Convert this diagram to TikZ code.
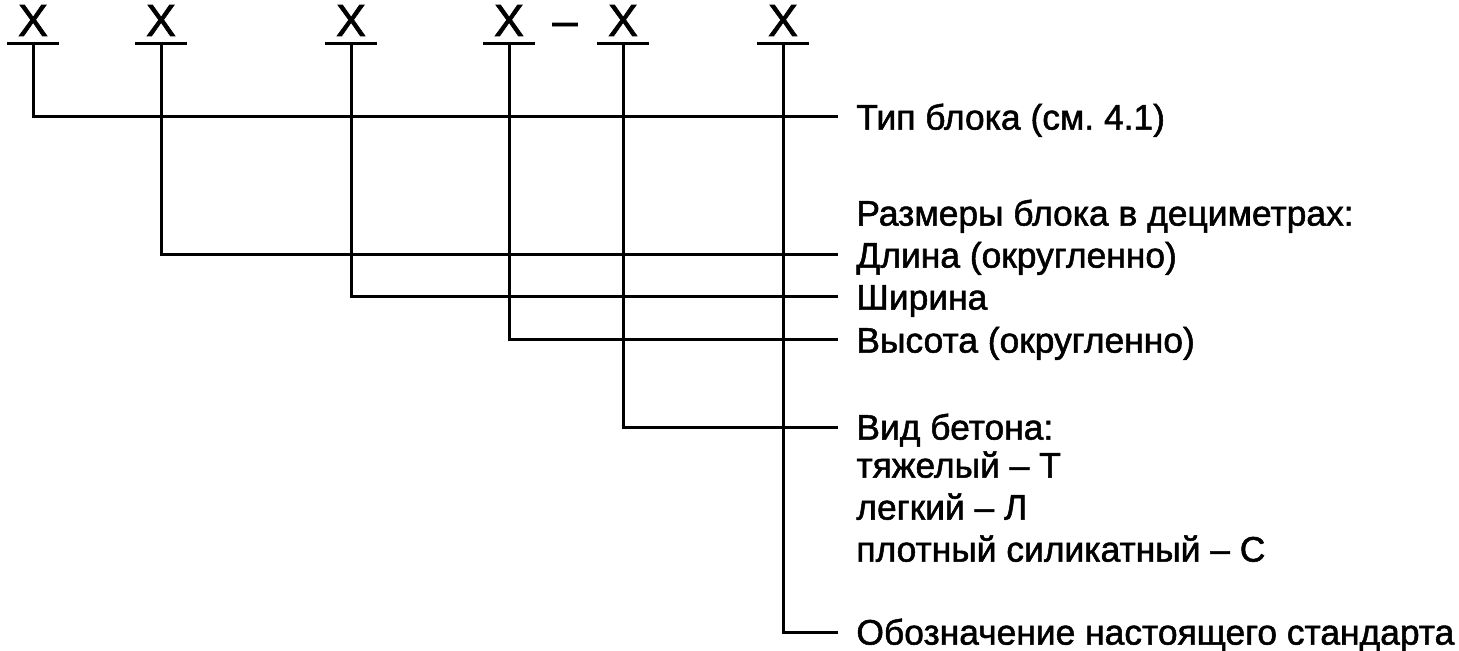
\documentclass[tikz,border=0pt]{standalone}
\usepackage{fontspec}
\setmainfont{Liberation Sans}
\newfontfamily\heavyfont[RawFeature={embolden=1.5}]{Liberation Sans}
\usetikzlibrary{positioning}
\frenchspacing

\begin{document}
\begin{tikzpicture}[
  x=0.5pt, y=-0.5pt,
  xsym/.style={font=\heavyfont\fontsize{22.5}{26}\selectfont, inner sep=0pt, anchor=base},
  lbl/.style={font=\heavyfont\fontsize{17.7}{21}\selectfont, inner sep=0pt, anchor=west,
              text height=12.6pt, text depth=0pt},
  conn/.style={line width=1.5pt},
  bar/.style={line width=1.5pt}
]
\useasboundingbox (0,0) rectangle (1459,651);

% designation positions with underlines
\foreach \i/\xx in {1/33,2/161,3/351,4/509,5/623,6/783} {
  \node[xsym] (x\i) at (\xx,36) {X};
  \coordinate (b\i) at (\xx,44);
  \draw[bar] ([xshift=-13pt]b\i) -- ([xshift=13pt]b\i);
}
\node[xsym] (dash) at (565,36) {–};

% line ends
\coordinate (e1) at (838,117);
\coordinate (e2) at (838,255);
\coordinate (e3) at (838,297);
\coordinate (e4) at (838,340);
\coordinate (e5) at (838,427);
\coordinate (e6) at (838,632);

\node[lbl, right=9pt of e1] (tip) {Тип блока (см. 4.1)};
\node[lbl] (razm) at (856,213) {Размеры блока в дециметрах:};
\node[lbl, right=9pt of e2] (dlina) {Длина (округленно)};
\node[lbl, right=9pt of e3] (shir) {Ширина};
\node[lbl, right=9pt of e4] (vys) {Высота (округленно)};
\node[lbl, right=9pt of e5] (vid) {Вид бетона:};
\node[lbl] (tyazh) at (856,465) {тяжелый – Т};
\node[lbl] (legk) at (856,507) {легкий – Л};
\node[lbl] (plot) at (856,549) {плотный силикатный – С};
\node[lbl, right=9pt of e6] (std) {Обозначение настоящего стандарта};

\draw[conn] (b1) |- (e1);
\draw[conn] (b2) |- (e2);
\draw[conn] (b3) |- (e3);
\draw[conn] (b4) |- (e4);
\draw[conn] (b5) |- (e5);
\draw[conn] (b6) |- (e6);
\end{tikzpicture}
\end{document}
